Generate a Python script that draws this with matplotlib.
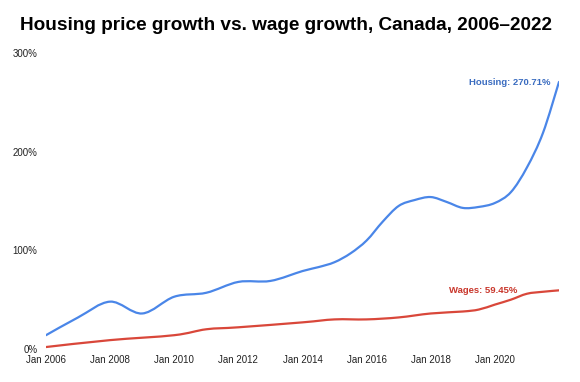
import numpy as np
import matplotlib
matplotlib.use("Agg")
import matplotlib.pyplot as plt
from matplotlib.path import Path
from matplotlib.patches import PathPatch

plt.rcParams['font.family'] = ['Liberation Sans', 'DejaVu Sans']

housing_years = [2006.0, 2007.0, 2008.0, 2009.0, 2010.0, 2011.0, 2012.0, 2013.0, 2014.0,
                 2014.5, 2015.0, 2015.5, 2016.0, 2016.5, 2017.0, 2017.5, 2018.0, 2018.5,
                 2019.0, 2019.5, 2020.0, 2020.5, 2021.0, 2021.5, 2022.0]
housing = [14, 32, 48, 36, 53, 57, 68, 69, 79,
           83, 88, 97, 110, 129, 145, 151, 154, 149,
           143, 144, 148, 159, 184, 219, 270.71]

wage_years = [2006.0, 2008.0, 2010.0, 2011.0, 2012.0, 2014.0, 2015.0, 2016.0, 2017.0,
              2018.0, 2019.0, 2019.5, 2020.0, 2020.5, 2021.0, 2021.5, 2022.0]
wages = [2, 9, 14, 20, 22, 27, 30, 30, 32,
         36, 38, 40, 45, 50, 56, 58, 59.45]

x_ticks = [2006, 2008, 2010, 2012, 2014, 2016, 2018, 2020]
x_tick_labels = ["Jan 2006", "Jan 2008", "Jan 2010", "Jan 2012", "Jan 2014",
                 "Jan 2016", "Jan 2018", "Jan 2020"]
y_ticks = [0, 100, 200, 300]
y_tick_labels = ["0%", "100%", "200%", "300%"]

title = "Housing price growth vs. wage growth, Canada, 2006\u20132022"
housing_label = "Housing: 270.71%"
wages_label = "Wages: 59.45%"

blue = "#4a86e8"
red = "#d9473a"
blue_text = "#3a6cc0"
red_text = "#c9372c"


def smooth_path(x, y):
    pts = np.column_stack([x, y]).astype(float)
    n = len(pts)
    verts = [pts[0]]
    codes = [Path.MOVETO]
    for i in range(n - 1):
        p0 = pts[i - 1] if i > 0 else pts[i]
        p1 = pts[i]
        p2 = pts[i + 1]
        p3 = pts[i + 2] if i + 2 < n else pts[i + 1]
        c1 = p1 + (p2 - p0) / 6.0
        c2 = p2 - (p3 - p1) / 6.0
        verts += [c1, c2, p2]
        codes += [Path.CURVE4] * 3
    return Path(verts, codes)


fig = plt.figure(figsize=(5.8, 3.82), dpi=100)
ax = fig.add_axes([46 / 580, 33 / 382, 513 / 580, 296 / 382])

ax.add_patch(PathPatch(smooth_path(wage_years, wages), fill=False, edgecolor=red,
                       lw=1.6, capstyle='round', joinstyle='round'))
ax.add_patch(PathPatch(smooth_path(housing_years, housing), fill=False, edgecolor=blue,
                       lw=1.6, capstyle='round', joinstyle='round'))

ax.set_xlim(2006, 2022)
ax.set_ylim(0, 300)
ax.set_xticks(x_ticks)
ax.set_xticklabels(x_tick_labels)
ax.set_yticks(y_ticks)
ax.set_yticklabels(y_tick_labels)
ax.tick_params(axis='both', length=0, labelsize=7, colors='#222222')
ax.tick_params(axis='y', pad=6)
ax.tick_params(axis='x', pad=4)
for s in ax.spines.values():
    s.set_visible(False)
ax.patch.set_alpha(0)

ax.text(2021.75, 270, housing_label, ha='right', va='center', fontsize=6.8,
        fontweight='bold', color=blue_text)
ax.text(2020.69, 59, wages_label, ha='right', va='center', fontsize=6.8,
        fontweight='bold', color=red_text)

fig.text(286 / 580, 1 - 25 / 382, title, ha='center', va='center', fontsize=13.7,
         fontweight='bold', color='#000000')

fig.savefig("out.png", dpi=100)
